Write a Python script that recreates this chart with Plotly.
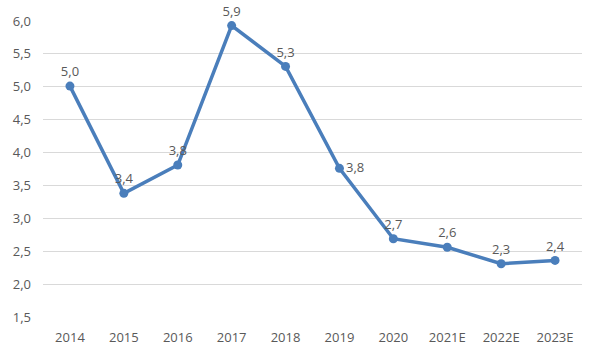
import plotly.graph_objects as go

categories = ["2014", "2015", "2016", "2017", "2018", "2019", "2020", "2021E", "2022E", "2023E"]
values = [5.01, 3.38, 3.81, 5.93, 5.31, 3.76, 2.69, 2.56, 2.31, 2.36]
label_positions = ["top center", "top center", "top center", "top center", "top center",
                   "middle right", "top center", "top center", "top center", "top center"]
y_ticks = [1.5, 2.0, 2.5, 3.0, 3.5, 4.0, 4.5, 5.0, 5.5, 6.0]

fig = go.Figure()
fig.add_trace(go.Scatter(
    x=categories, y=values,
    mode="lines+markers+text",
    line=dict(color="#4A7EBB", width=3.5),
    marker=dict(color="#4A7EBB", size=9),
    texttemplate="%{y:.1f}",
    textposition=label_positions,
    textfont=dict(family="Open Sans, Liberation Sans, sans-serif", size=13, color="#595959"),
    cliponaxis=False,
    hoverinfo="skip",
))

fig.update_layout(
    width=600, height=358,
    margin=dict(l=43, r=18, t=17, b=38),
    paper_bgcolor="white", plot_bgcolor="white",
    separators=", ",
    showlegend=False,
    font=dict(family="Open Sans, Liberation Sans, sans-serif", size=13, color="#595959"),
)
fig.update_xaxes(
    type="category", range=[-0.5, 9.5],
    showgrid=False, showline=False, zeroline=False,
    tickfont=dict(size=13, color="#595959"), ticks="", ticklabelstandoff=11,
)
fig.update_yaxes(
    range=[1.5, 6.0], tickvals=y_ticks, tickformat=".1f",
    showgrid=True, gridcolor="#D9D9D9", gridwidth=1,
    zeroline=False, showline=False, ticks="",
    tickfont=dict(size=13, color="#595959"), ticklabelstandoff=11,
)

fig.write_html("out.html", config={"displayModeBar": False},
               post_script="document.body.style.margin='0';")
